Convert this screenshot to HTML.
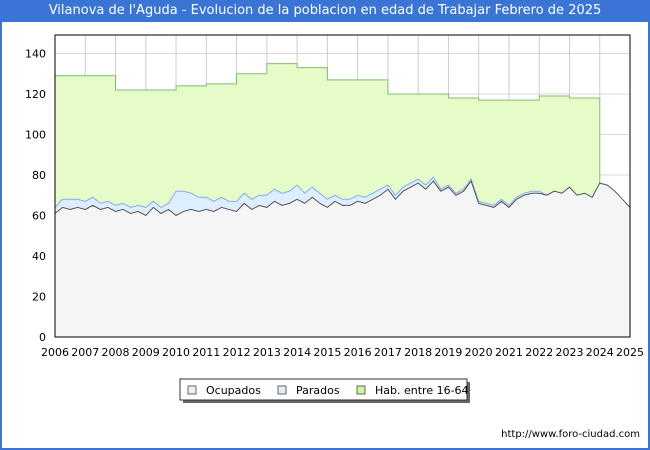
<!DOCTYPE html>
<html><head><meta charset="utf-8"><style>
body{margin:0;width:650px;height:450px;overflow:hidden;font-family:"DejaVu Sans","Liberation Sans",sans-serif;}
#wrap{position:relative;width:646px;height:448px;border:2px solid #3a75d6;border-top:none;background:#fff;}
#title{position:absolute;left:-2px;top:0;width:650px;height:22px;background:#3a75d6;color:#fff;font-size:13px;line-height:22px;text-align:center;z-index:2;}
</style></head><body>
<div id="wrap">
<div id="title">Vilanova de l'Aguda - Evolucion de la poblacion en edad de Trabajar Febrero de 2025</div>
<svg id="chart" width="650" height="450" style="position:absolute;left:-2px;top:0"></svg>
</div>
<script>
const years=[2006,2007,2008,2009,2010,2011,2012,2013,2014,2015,2016,2017,2018,2019,2020,2021,2022,2023,2024,2025];
const yTicks=[0,20,40,60,80,100,120,140];
const habYears=[2006,2007,2008,2009,2010,2011,2012,2013,2014,2015,2016,2017,2018,2019,2020,2021,2022,2023];
const habValues=[129,129,122,122,124,125,130,135,133,127,127,120,120,118,117,117,119,118];
const habLast=86;
const ocupados=[61,64,63,64,63,65,63,64,62,63,61,62,60,64,61,63,60,62,63,62,63,62,64,63,62,66,63,65,64,67,65,66,68,66,69,66,64,67,65,65,67,66,68,70,73,68,72,74,76,73,77,72,74,70,72,77,66,65,64,67,64,68,70,71,71,70,72,71,74,70,71,69,76,75,72,68,64];
const parados=[3,4,5,4,4,4,3,3,3,3,3,3,4,3,3,3,12,10,8,7,6,5,5,4,5,5,5,5,6,6,6,6,7,5,5,5,4,3,3,3,3,3,3,3,2,2,2,2,2,2,2,1,1,1,1,1,1,1,1,1,1,1,1,1,1,0,0,0,0,0,0,0];
const NS='http://www.w3.org/2000/svg';
const svg=document.getElementById('chart');
const L=55,R=630,T=35,B=337;
const x=v=>L+(v-2006)/(2025-2006)*(R-L);
const y=v=>B-v/140*(B-T-18.5);
function mk(t,a){const e=document.createElementNS(NS,t);for(const k in a)e.setAttribute(k,a[k]);svg.appendChild(e);return e;}
let e=mk('rect',{x:L,y:T,width:R-L,height:B-T,fill:'#fff'});


yTicks.forEach(v=>{const g=mk('line',{x1:L,x2:R,y1:y(v),y2:y(v),stroke:'#d8d8d8'});


const t=mk('text',{x:L-9,y:y(v)+4,'text-anchor':'end','font-size':11});t.textContent=v;

});
years.forEach(v=>{const g=mk('line',{x1:x(v),x2:x(v),y1:T,y2:B,stroke:'#cccccc'});


const t=mk('text',{x:x(v),y:B+19,'text-anchor':'middle','font-size':11});t.textContent=v;

});
const qx=i=>x(2006+i/4);
let d='M'+x(2006)+','+y(0);
habYears.forEach((yr,i)=>{d+=' L'+x(yr)+','+y(habValues[i])+' L'+x(yr+1)+','+y(habValues[i]);});
d+=' L'+x(2024)+','+y(habLast)+' L'+x(2024)+','+y(0)+'Z';
e=mk('path',{d:d,fill:'#e5fcc8',stroke:'#7fbf6a','stroke-width':1});


const nP=parados.length;
let topPts=[];for(let i=0;i<nP;i++)topPts.push([qx(i),y(ocupados[i]+parados[i])]);
d='M'+topPts.map(p=>p.join(',')).join(' L');
for(let i=nP-1;i>=0;i--)d+=' L'+qx(i)+','+y(ocupados[i]);
d+='Z';
e=mk('path',{d:d,fill:'#ddeeff',stroke:'none'});


e=mk('polyline',{points:topPts.map(p=>p.join(',')).join(' '),fill:'none',stroke:'#88aaee','stroke-width':1});


let pts=ocupados.map((v,i)=>[qx(i),y(v)]);
d='M'+qx(0)+','+y(0)+' L'+pts.map(p=>p.join(',')).join(' L')+' L'+qx(ocupados.length-1)+','+y(0)+'Z';
e=mk('path',{d:d,fill:'#f5f5f5',stroke:'none'});


e=mk('polyline',{points:pts.map(p=>p.join(',')).join(' '),fill:'none',stroke:'#555','stroke-width':1});


e=mk('rect',{x:L,y:T,width:R-L,height:B-T,fill:'none',stroke:'#000','stroke-width':1});


e=mk('rect',{x:183,y:382,width:287,height:21,fill:'#666'});


e=mk('rect',{x:180,y:379,width:287,height:21,fill:'#fff',stroke:'#333'});


[['Ocupados','#eeeeee',188],['Parados','#ddeeff',278],['Hab. entre 16-64','#ccf5a0',357]].forEach(l=>{
const r=mk('rect',{x:l[2],y:386,width:8,height:8,fill:l[1],stroke:'#666'});


const t=mk('text',{x:l[2]+18,y:394,'font-size':11});t.textContent=l[0];

});
const u=mk('text',{x:640,y:437,'text-anchor':'end','font-size':10});u.textContent='http://www.foro-ciudad.com';


</script>
</body></html>
